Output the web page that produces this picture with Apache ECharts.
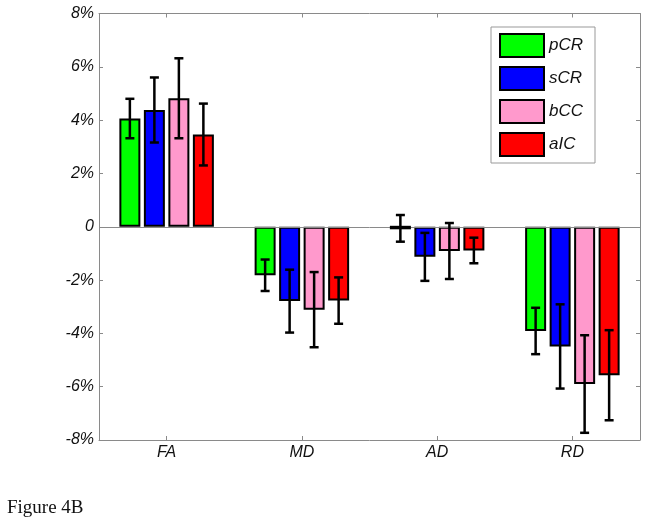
<!DOCTYPE html>
<html>
<head>
<meta charset="utf-8">
<script src="https://cdn.jsdelivr.net/npm/echarts@6/dist/echarts.min.js"></script>
<style>
html,body{margin:0;padding:0;background:#fff;}
#chart{width:649px;height:528px;}
</style>
</head>
<body>
<div id="chart"></div>
<script>
// ---- data (percent) ----
var categories = ['FA', 'MD', 'AD', 'RD'];
var seriesNames = ['pCR', 'sCR', 'bCC', 'aIC'];
var pCR = [4.06, -1.82, -0.06, -3.91];
var sCR = [4.38, -2.79, -1.13, -4.49];
var bCC = [4.82, -3.11, -0.91, -5.90];
var aIC = [3.46, -2.77, -0.89, -5.57];
var pCRErr = [0.74, 0.59, 0.50, 0.87];
var sCRErr = [1.22, 1.18, 0.90, 1.58];
var bCCErr = [1.50, 1.41, 1.05, 1.83];
var aICErr = [1.16, 0.87, 0.48, 1.69];
var yTicks = [-8, -6, -4, -2, 0, 2, 4, 6, 8];

var values = [pCR, sCR, bCC, aIC];
var errors = [pCRErr, sCRErr, bCCErr, aICErr];
var colors = ['#00ff00', '#0000ff', '#ff99cc', '#ff0000'];

var BAR_W = 21, GAP = 3.5;
var labelFont = 'Liberation Sans, Arial, sans-serif';

var chart = echarts.init(document.getElementById('chart'), null, {renderer: 'canvas'});

var series = [];

// zero baseline drawn beneath the bars
series.push({
  name: 'baseline',
  type: 'line',
  data: [],
  z: 1,
  silent: true,
  animation: false,
  markLine: {
    silent: true,
    symbol: 'none',
    label: {show: false},
    lineStyle: {color: '#8a8a8a', width: 1, type: 'solid'},
    data: [{yAxis: 0}],
    animation: false
  }
});

values.forEach(function (vals, i) {
  series.push({
    name: seriesNames[i],
    type: 'bar',
    xAxisIndex: 0,
    yAxisIndex: 0,
    data: vals,
    barWidth: BAR_W,
    barGap: (GAP / BAR_W * 100).toFixed(2) + '%',
    itemStyle: {color: colors[i], borderColor: '#000', borderWidth: 2},
    emphasis: {disabled: true},
    animation: false,
    z: 3
  });
});

values.forEach(function (vals, i) {
  var data = vals.map(function (v, k) { return [k, v, errors[i][k]]; });
  series.push({
    name: seriesNames[i] + '_err',
    type: 'custom',
    xAxisIndex: 0,
    yAxisIndex: 0,
    data: data,
    z: 5,
    animation: false,
    silent: true,
    renderItem: function (params, api) {
      var k = api.value(0), v = api.value(1), e = api.value(2);
      var off = (i - 1.5) * (BAR_W + GAP);
      var hi = api.coord([k, v + e]);
      var lo = api.coord([k, v - e]);
      var top = api.coord([k, v]);
      var base = api.coord([k, 0]);
      var x = hi[0] + off;
      var cap = 4.5;
      var st = {stroke: '#000', lineWidth: 2.5};
      var children = [];
      // near-zero bar: its black edge collapses into a thick line
      if (Math.abs(top[1] - base[1]) < 3) {
        children.push({
          type: 'line',
          shape: {x1: x - BAR_W / 2, y1: (top[1] + base[1]) / 2, x2: x + BAR_W / 2, y2: (top[1] + base[1]) / 2},
          style: {stroke: '#000', lineWidth: 3.5}
        });
      }
      children.push(
        {type: 'line', shape: {x1: x, y1: hi[1], x2: x, y2: lo[1]}, style: st},
        {type: 'line', shape: {x1: x - cap, y1: hi[1], x2: x + cap, y2: hi[1]}, style: st},
        {type: 'line', shape: {x1: x - cap, y1: lo[1], x2: x + cap, y2: lo[1]}, style: st}
      );
      return {type: 'group', children: children};
    }
  });
});

var axisLineStyle = {color: '#8a8a8a', width: 1};

var option = {
  backgroundColor: '#ffffff',
  animation: false,
  grid: {left: 99, top: 13.5, right: 9, bottom: 88, containLabel: false},
  legend: {
    data: seriesNames,
    orient: 'vertical',
    left: 491,
    top: 27,
    itemWidth: 44,
    itemHeight: 23,
    itemGap: 8,
    icon: 'rect',
    padding: [6, 12, 6, 8],
    backgroundColor: '#fff',
    borderColor: '#999',
    borderWidth: 1,
    borderRadius: 0,
    selectedMode: false,
    textStyle: {fontFamily: labelFont, fontStyle: 'italic', fontSize: 17, color: '#111', padding: [0, 0, 0, 0]},
    itemStyle: {borderColor: '#000', borderWidth: 2}
  },
  xAxis: [
    {
      type: 'category',
      data: categories,
      position: 'bottom',
      axisLine: {show: true, onZero: false, lineStyle: axisLineStyle},
      axisTick: {show: true, inside: true, length: 4, alignWithLabel: true, lineStyle: axisLineStyle},
      axisLabel: {fontFamily: labelFont, fontStyle: 'italic', fontSize: 16, color: '#111', margin: 5},
      splitLine: {show: false}
    },
    {
      type: 'category',
      data: categories,
      position: 'top',
      axisLine: {show: true, onZero: false, lineStyle: axisLineStyle},
      axisTick: {show: true, inside: true, length: 4, alignWithLabel: true, lineStyle: axisLineStyle},
      axisLabel: {show: false},
      splitLine: {show: false}
    }
  ],
  yAxis: [
    {
      type: 'value',
      min: yTicks[0],
      max: yTicks[yTicks.length - 1],
      interval: 2,
      position: 'left',
      axisLine: {show: true, onZero: false, lineStyle: axisLineStyle},
      axisTick: {show: true, inside: true, length: 4, lineStyle: axisLineStyle},
      axisLabel: {
        fontFamily: labelFont, fontStyle: 'italic', fontSize: 16, color: '#111', margin: 5,
        formatter: function (v) { return v === 0 ? '0' : v + '%'; }
      },
      splitLine: {show: false}
    },
    {
      type: 'value',
      min: yTicks[0],
      max: yTicks[yTicks.length - 1],
      interval: 2,
      position: 'right',
      axisLine: {show: true, onZero: false, lineStyle: axisLineStyle},
      axisTick: {show: true, inside: true, length: 4, lineStyle: axisLineStyle},
      axisLabel: {show: false},
      splitLine: {show: false}
    }
  ],
  graphic: [
    {
      type: 'text',
      left: 7,
      top: 499,
      style: {text: 'Figure 4B', font: '19px "Liberation Serif", "Times New Roman", serif', fill: '#111'}
    }
  ],
  series: series
};

chart.setOption(option);
</script>
</body>
</html>
